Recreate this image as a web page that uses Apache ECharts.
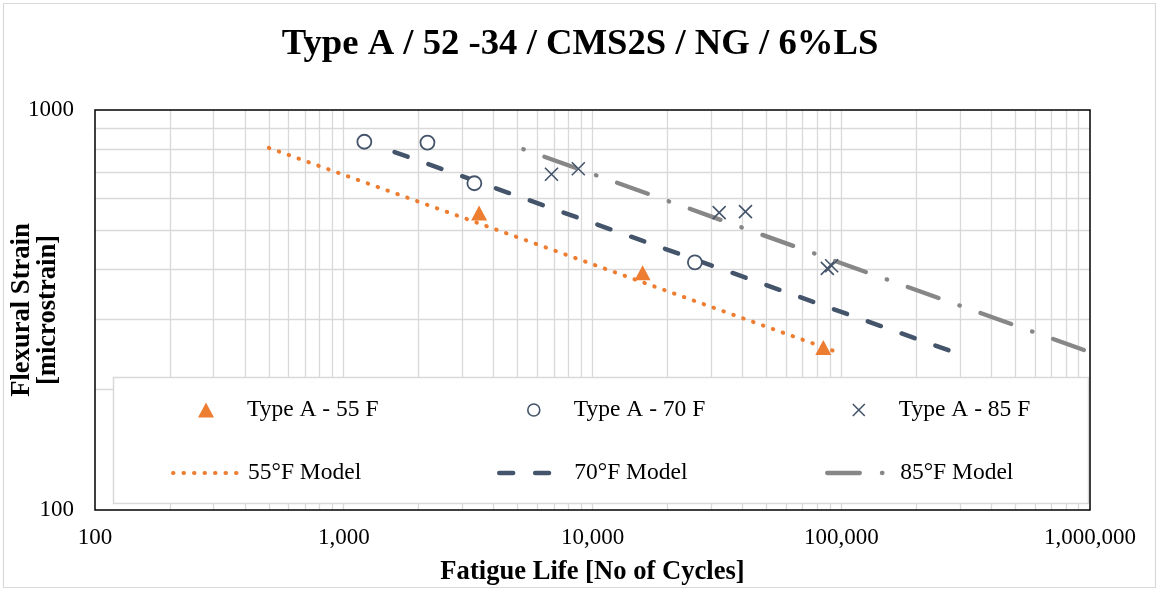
<!DOCTYPE html>
<html>
<head>
<meta charset="utf-8">
<script src="https://cdn.jsdelivr.net/npm/echarts@6/dist/echarts.min.js"></script>
<style>
  html, body { margin: 0; padding: 0; background: #fff; }
  #chart { width: 1160px; height: 592px; }
</style>
</head>
<body>
<div id="chart"></div>
<script>
// Beam fatigue tests: fatigue life (cycles) against flexural strain (microstrain)
const test55N = [3500, 15900, 84700];
const test55S = [553, 392, 255];
const test70N = [1210, 2170, 3350, 25800];
const test70S = [833, 829, 656, 416];
const test85N = [6840, 8770, 32300, 41200, 87900, 91500];
const test85S = [691, 713, 554, 557, 402, 408];

// Power-law fatigue models, given by the end points of each line
const model55N = [500, 100000];
const model55S = [804, 246];
const model70N = [1600, 300000];
const model70S = [785, 245];
const model85N = [5270, 1000000];
const model85S = [798, 248];

const seriesNames = ['Type A - 55 F', 'Type A - 70 F', 'Type A - 85 F', '55°F Model', '70°F Model', '85°F Model'];
const xTickLabels = ['100', '1,000', '10,000', '100,000', '1,000,000'];
const yTickLabels = ['100', '1000'];

const SERIF = "'Liberation Serif', 'Times New Roman', serif";
const ORANGE = '#ED7D31';
const NAVY = '#44546A';
const GREY = '#878787';
const GRID_GREY = '#D9D9D9';

const pairs = (xs, ys) => xs.map((x, i) => [x, ys[i]]);

// Log-axis gridlines at 1..9 times each decade
const xGridValues = [];
for (let e = 2; e < 6; e++) {
  for (let m = 1; m <= 9; m++) {
    const v = m * Math.pow(10, e);
    if (v > 100) xGridValues.push(v);
  }
}
const yGridValues = [];
for (let m = 2; m <= 9; m++) yGridValues.push(m * 100);

// Line dash patterns
const DOTS = [0.5, 10];
const DASHES = [13.9, 22];
const DASH_DOT = [0.5, 21.9, 32.7, 22.1];

const X_MARK = 'path://M0,0L10,10M10,0L0,10';

function legendAt(left, top, itemWidth, itemHeight, item, textPad) {
  return {
    left: left, top: top, padding: 0, z: 6,
    itemWidth: itemWidth, itemHeight: itemHeight,
    selectedMode: false,
    data: [item],
    textStyle: {
      fontFamily: SERIF, fontSize: 23.5, lineHeight: 24, color: '#000',
      padding: [0, 0, 0, textPad || 0]
    }
  };
}

const chart = echarts.init(document.getElementById('chart'), null, { renderer: 'canvas' });

chart.setOption({
  animation: false,
  backgroundColor: '#fff',
  title: {
    text: 'Type A / 52 -34 / CMS2S / NG / 6%LS',
    left: 'center',
    top: 27,
    padding: 0,
    textStyle: { fontFamily: SERIF, fontWeight: 'bold', fontSize: 36.7, lineHeight: 36, color: '#000' }
  },
  grid: {
    left: 95, right: 70, top: 110, bottom: 82,
    containLabel: false,
    outerBoundsMode: 'none',
    show: true, z: 10,
    backgroundColor: 'transparent',
    borderColor: '#000', borderWidth: 1.5
  },
  xAxis: {
    type: 'log', logBase: 10, min: 100, max: 1000000,
    axisLine: { show: false },
    axisTick: { show: false },
    splitLine: { show: false },
    axisLabel: {
      fontFamily: SERIF, fontSize: 23, lineHeight: 24, color: '#000', margin: 16,
      formatter: v => xTickLabels[Math.round(Math.log10(v)) - 2]
    },
    name: 'Fatigue Life [No of Cycles]',
    nameLocation: 'middle',
    nameGap: 49,
    nameMoveOverlap: false,
    nameTextStyle: { fontFamily: SERIF, fontWeight: 'bold', fontSize: 26.6, lineHeight: 26, color: '#000' }
  },
  yAxis: {
    type: 'log', logBase: 10, min: 100, max: 1000,
    axisLine: { show: false },
    axisTick: { show: false },
    splitLine: { show: false },
    axisLabel: {
      fontFamily: SERIF, fontSize: 23, lineHeight: 24, color: '#000', margin: 21,
      formatter: v => yTickLabels[Math.round(Math.log10(v)) - 2]
    },
    name: 'Flexural Strain\n[microstrain]',
    nameLocation: 'middle',
    nameGap: 34,
    nameMoveOverlap: false,
    nameTextStyle: { fontFamily: SERIF, fontWeight: 'bold', fontSize: 26.6, lineHeight: 26, color: '#000' }
  },
  graphic: [
    {
      type: 'rect', z: 0, silent: true,
      shape: { x: 3.5, y: 3.5, width: 1152, height: 584 },
      style: { fill: 'none', stroke: GRID_GREY, lineWidth: 1.2 }
    },
    {
      type: 'rect', z: 5, silent: true,
      shape: { x: 113.5, y: 377.5, width: 975, height: 126 },
      style: { fill: '#fff', stroke: GRID_GREY, lineWidth: 1.5 }
    }
  ],
  legend: [
    legendAt(198, 398, 16, 15, {
      name: seriesNames[0],
      itemStyle: { color: ORANGE, borderWidth: 0 }
    }, 28),
    legendAt(527, 398, 12, 12, {
      name: seriesNames[1],
      itemStyle: { color: '#fff', borderColor: NAVY, borderWidth: 1.6 }
    }, 29),
    legendAt(852, 398, 12, 12, {
      name: seriesNames[2],
      itemStyle: { color: 'rgba(0,0,0,0)', borderColor: NAVY, borderWidth: 1.6 }
    }, 29),
    legendAt(171, 461, 70, 14, {
      name: seriesNames[3],
      itemStyle: { opacity: 0 },
      lineStyle: { color: ORANGE, width: 4, type: DOTS, cap: 'round', dashOffset: 0 }
    }),
    legendAt(497, 461, 70, 14, {
      name: seriesNames[4],
      itemStyle: { opacity: 0 },
      lineStyle: { color: NAVY, width: 4.5, type: DASHES, cap: 'round', dashOffset: 0 }
    }),
    legendAt(825, 461, 68, 14, {
      name: seriesNames[5],
      itemStyle: { opacity: 0 },
      lineStyle: { color: GREY, width: 4.3, type: DASH_DOT, cap: 'round', dashOffset: 22.4 }
    })
  ],
  series: [
    {
      // gridlines
      type: 'line', name: 'gridlines', data: [], z: 1, silent: true,
      markLine: {
        z: 1,
        silent: true, animation: false,
        symbol: ['none', 'none'],
        label: { show: false },
        emphasis: { disabled: true },
        lineStyle: { color: GRID_GREY, width: 1.3, type: 'solid' },
        data: xGridValues.map(v => ({ xAxis: v })).concat(yGridValues.map(v => ({ yAxis: v })))
      }
    },
    {
      name: seriesNames[3], type: 'line', z: 2, symbol: 'none',
      data: pairs(model55N, model55S),
      lineStyle: { color: ORANGE, width: 4, type: DOTS, cap: 'round' },
      itemStyle: { color: ORANGE }
    },
    {
      name: seriesNames[4], type: 'line', z: 2, symbol: 'none',
      data: pairs(model70N, model70S),
      lineStyle: { color: NAVY, width: 4.5, type: DASHES, cap: 'round' },
      itemStyle: { color: NAVY }
    },
    {
      name: seriesNames[5], type: 'line', z: 2, symbol: 'none',
      data: pairs(model85N, model85S),
      lineStyle: { color: GREY, width: 4.3, type: DASH_DOT, cap: 'round' },
      itemStyle: { color: GREY }
    },
    {
      name: seriesNames[0], type: 'scatter', z: 4,
      symbol: 'triangle', symbolSize: [16, 15],
      data: pairs(test55N, test55S),
      itemStyle: { color: ORANGE, opacity: 1 }
    },
    {
      name: seriesNames[1], type: 'scatter', z: 4,
      symbol: 'circle', symbolSize: 14,
      data: pairs(test70N, test70S),
      itemStyle: { color: '#fff', borderColor: NAVY, borderWidth: 1.8, opacity: 1 }
    },
    {
      name: seriesNames[2], type: 'scatter', z: 4,
      symbol: X_MARK, symbolSize: 13,
      data: pairs(test85N, test85S),
      itemStyle: { color: 'rgba(0,0,0,0)', borderColor: NAVY, borderWidth: 1.6, opacity: 1 }
    }
  ]
});
</script>
</body>
</html>
